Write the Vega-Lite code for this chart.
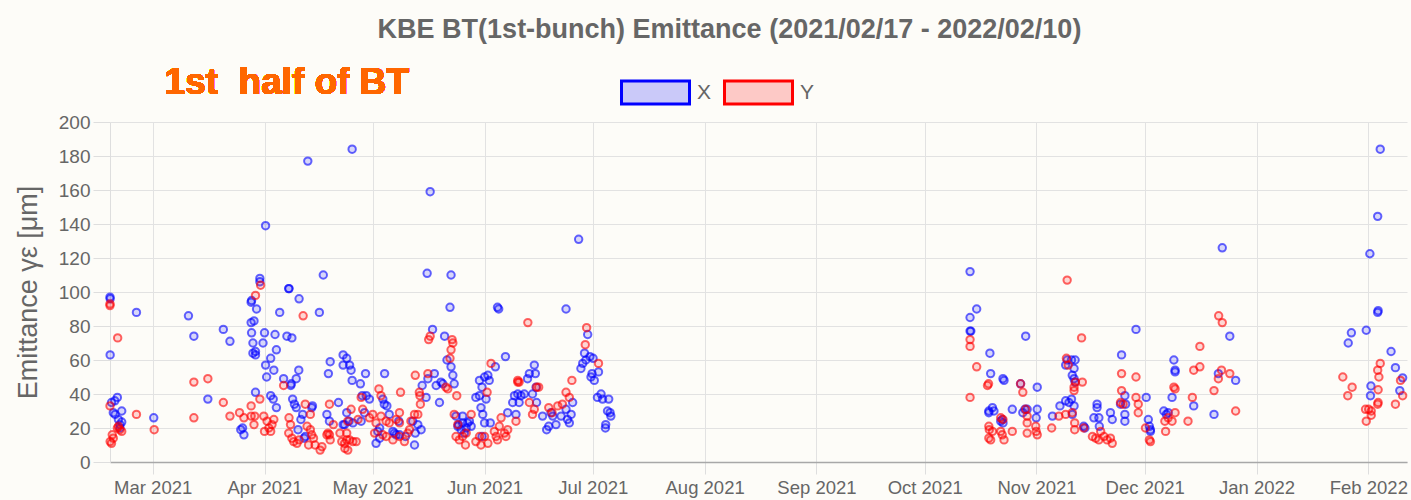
{
"$schema": "https://vega.github.io/schema/vega-lite/v6.json",
"width": 1297,
"height": 340,
"autosize": {"type": "none"},
"padding": {"left": 110, "top": 122, "right": 4, "bottom": 38},
"background": "#fdfcf8",
"config": {"font": "Liberation Sans", "view": {"stroke": null}},
"title": {"text": "KBE BT(1st-bunch) Emittance (2021/02/17 - 2022/02/10)", "fontSize": 27, "fontWeight": "bold", "color": "#666666", "anchor": "middle", "frame": "group", "dx": -29, "dy": -9},
"data": {"values": [
{"t":"2021-02-17T04:00","s":"X","v":97},{"t":"2021-02-17T05:00","s":"X","v":96},{"t":"2021-02-17T05:00","s":"X","v":63},{"t":"2021-02-17T14:00","s":"X","v":35},{"t":"2021-02-18T02:00","s":"X","v":29},{"t":"2021-02-18T12:00","s":"X","v":36},{"t":"2021-02-19T05:00","s":"X","v":38},{"t":"2021-02-18T14:00","s":"X","v":28},{"t":"2021-02-19T12:00","s":"X","v":25},{"t":"2021-02-19T22:00","s":"X","v":22},{"t":"2021-02-20T10:00","s":"X","v":30},{"t":"2021-02-20T10:00","s":"X","v":23.5},{"t":"2021-02-19T22:00","s":"X","v":20},
{"t":"2021-02-24T12:00","s":"X","v":88},{"t":"2021-03-01T07:00","s":"X","v":26},{"t":"2021-03-10T22:00","s":"X","v":86},{"t":"2021-03-12T10:00","s":"X","v":74},{"t":"2021-03-16T07:00","s":"X","v":37},{"t":"2021-03-20T14:00","s":"X","v":78},{"t":"2021-03-22T10:00","s":"X","v":71},{"t":"2021-03-25T10:00","s":"X","v":19},{"t":"2021-03-26T07:00","s":"X","v":16},{"t":"2021-03-25T22:00","s":"X","v":20},
{"t":"2021-03-28T07:00","s":"X","v":94},{"t":"2021-03-28T10:00","s":"X","v":95},{"t":"2021-03-28T07:00","s":"X","v":82},{"t":"2021-03-29T02:00","s":"X","v":83},{"t":"2021-03-29T19:00","s":"X","v":90},{"t":"2021-03-28T10:00","s":"X","v":76},{"t":"2021-03-28T19:00","s":"X","v":70},{"t":"2021-03-28T19:00","s":"X","v":64},{"t":"2021-03-29T12:00","s":"X","v":63},{"t":"2021-03-29T12:00","s":"X","v":65},{"t":"2021-03-29T12:00","s":"X","v":41},
{"t":"2021-03-30T17:00","s":"X","v":108},{"t":"2021-03-30T17:00","s":"X","v":106},{"t":"2021-04-01T07:00","s":"X","v":139},{"t":"2021-04-01T00:00","s":"X","v":76},{"t":"2021-03-31T14:00","s":"X","v":70},{"t":"2021-04-01T07:00","s":"X","v":57},{"t":"2021-04-01T14:00","s":"X","v":50},{"t":"2021-04-02T17:00","s":"X","v":39},{"t":"2021-04-02T17:00","s":"X","v":61},{"t":"2021-04-03T14:00","s":"X","v":54},{"t":"2021-04-03T10:00","s":"X","v":37},{"t":"2021-04-04T07:00","s":"X","v":32},{"t":"2021-04-04T07:00","s":"X","v":66},{"t":"2021-04-03T22:00","s":"X","v":75},{"t":"2021-04-05T05:00","s":"X","v":88},
{"t":"2021-04-06T07:00","s":"X","v":49},{"t":"2021-04-07T17:00","s":"X","v":102},{"t":"2021-04-07T19:00","s":"X","v":102},{"t":"2021-04-07T05:00","s":"X","v":74},{"t":"2021-04-08T14:00","s":"X","v":73},{"t":"2021-04-08T07:00","s":"X","v":45},{"t":"2021-04-08T10:00","s":"X","v":46},{"t":"2021-04-08T19:00","s":"X","v":37},{"t":"2021-04-09T07:00","s":"X","v":34},{"t":"2021-04-09T19:00","s":"X","v":32},{"t":"2021-04-09T19:00","s":"X","v":49},{"t":"2021-04-10T12:00","s":"X","v":54},{"t":"2021-04-10T14:00","s":"X","v":96},{"t":"2021-04-10T07:00","s":"X","v":19},{"t":"2021-04-11T02:00","s":"X","v":25},{"t":"2021-04-11T14:00","s":"X","v":28},{"t":"2021-04-12T00:00","s":"X","v":14},{"t":"2021-04-12T07:00","s":"X","v":15},
{"t":"2021-04-13T00:00","s":"X","v":177},{"t":"2021-04-14T02:00","s":"X","v":32},{"t":"2021-04-14T07:00","s":"X","v":33},{"t":"2021-04-16T05:00","s":"X","v":88},{"t":"2021-04-17T07:00","s":"X","v":110},{"t":"2021-04-18T07:00","s":"X","v":28},{"t":"2021-04-19T00:00","s":"X","v":24},{"t":"2021-04-19T05:00","s":"X","v":59},{"t":"2021-04-18T17:00","s":"X","v":52},{"t":"2021-04-21T12:00","s":"X","v":35},{"t":"2021-04-22T19:00","s":"X","v":22},{"t":"2021-04-22T19:00","s":"X","v":63},{"t":"2021-04-22T19:00","s":"X","v":57},{"t":"2021-04-23T19:00","s":"X","v":29},{"t":"2021-04-23T19:00","s":"X","v":61},
{"t":"2021-04-25T07:00","s":"X","v":184},{"t":"2021-04-24T14:00","s":"X","v":57},{"t":"2021-04-25T00:00","s":"X","v":54},{"t":"2021-04-25T07:00","s":"X","v":48},{"t":"2021-04-24T10:00","s":"X","v":24},{"t":"2021-04-25T12:00","s":"X","v":23},{"t":"2021-04-23T05:00","s":"X","v":22},{"t":"2021-04-27T14:00","s":"X","v":46},{"t":"2021-04-29T00:00","s":"X","v":52},{"t":"2021-04-28T02:00","s":"X","v":39},{"t":"2021-04-29T05:00","s":"X","v":39},{"t":"2021-04-30T02:00","s":"X","v":37},{"t":"2021-04-27T19:00","s":"X","v":24},{"t":"2021-04-28T17:00","s":"X","v":29},
{"t":"2021-05-01T22:00","s":"X","v":11},{"t":"2021-05-02T22:00","s":"X","v":20},{"t":"2021-05-02T10:00","s":"X","v":18},{"t":"2021-05-02T22:00","s":"X","v":14},{"t":"2021-05-04T07:00","s":"X","v":52},{"t":"2021-05-04T05:00","s":"X","v":34},{"t":"2021-05-04T22:00","s":"X","v":33},{"t":"2021-05-03T19:00","s":"X","v":37},{"t":"2021-05-05T14:00","s":"X","v":28},{"t":"2021-05-07T00:00","s":"X","v":17},{"t":"2021-05-07T12:00","s":"X","v":16},{"t":"2021-05-08T10:00","s":"X","v":16},{"t":"2021-05-06T14:00","s":"X","v":18},{"t":"2021-05-08T05:00","s":"X","v":24},{"t":"2021-05-10T02:00","s":"X","v":15},{"t":"2021-05-12T14:00","s":"X","v":10},{"t":"2021-05-12T19:00","s":"X","v":17},{"t":"2021-05-13T12:00","s":"X","v":22},{"t":"2021-05-14T10:00","s":"X","v":19},{"t":"2021-05-12T02:00","s":"X","v":24},
{"t":"2021-05-16T22:00","s":"X","v":159},{"t":"2021-05-16T02:00","s":"X","v":111},{"t":"2021-05-22T17:00","s":"X","v":110},{"t":"2021-05-22T10:00","s":"X","v":91},{"t":"2021-05-17T14:00","s":"X","v":78},{"t":"2021-05-20T22:00","s":"X","v":74},{"t":"2021-05-21T14:00","s":"X","v":60},{"t":"2021-05-22T17:00","s":"X","v":56},{"t":"2021-05-23T05:00","s":"X","v":51},{"t":"2021-05-23T14:00","s":"X","v":46},{"t":"2021-05-18T02:00","s":"X","v":52},{"t":"2021-05-16T07:00","s":"X","v":49},{"t":"2021-05-14T17:00","s":"X","v":45},{"t":"2021-05-15T19:00","s":"X","v":38},{"t":"2021-05-19T12:00","s":"X","v":35},{"t":"2021-05-20T10:00","s":"X","v":46},{"t":"2021-05-19T22:00","s":"X","v":47},{"t":"2021-05-18T14:00","s":"X","v":45},
{"t":"2021-05-24T14:00","s":"X","v":21},{"t":"2021-05-24T19:00","s":"X","v":22},{"t":"2021-05-25T12:00","s":"X","v":19},{"t":"2021-05-25T22:00","s":"X","v":23},{"t":"2021-05-26T22:00","s":"X","v":20},{"t":"2021-05-27T07:00","s":"X","v":23},{"t":"2021-05-27T19:00","s":"X","v":24},{"t":"2021-05-28T07:00","s":"X","v":21},{"t":"2021-05-26T10:00","s":"X","v":17},{"t":"2021-05-24T02:00","s":"X","v":27},{"t":"2021-05-25T22:00","s":"X","v":27},
{"t":"2021-05-29T14:00","s":"X","v":38},{"t":"2021-05-30T14:00","s":"X","v":39},{"t":"2021-05-31T07:00","s":"X","v":44},{"t":"2021-05-30T14:00","s":"X","v":48},{"t":"2021-06-01T00:00","s":"X","v":50},{"t":"2021-06-01T22:00","s":"X","v":51},{"t":"2021-06-02T07:00","s":"X","v":48},{"t":"2021-06-01T10:00","s":"X","v":37},{"t":"2021-05-31T00:00","s":"X","v":32},{"t":"2021-05-31T12:00","s":"X","v":28},{"t":"2021-06-01T00:00","s":"X","v":23},{"t":"2021-06-02T14:00","s":"X","v":23},{"t":"2021-05-31T07:00","s":"X","v":15},
{"t":"2021-06-04T00:00","s":"X","v":56},{"t":"2021-06-04T14:00","s":"X","v":91},{"t":"2021-06-04T22:00","s":"X","v":90},{"t":"2021-06-06T19:00","s":"X","v":62},{"t":"2021-06-07T10:00","s":"X","v":29},{"t":"2021-06-08T19:00","s":"X","v":35},{"t":"2021-06-09T07:00","s":"X","v":39},{"t":"2021-06-10T05:00","s":"X","v":40},{"t":"2021-06-10T14:00","s":"X","v":35},{"t":"2021-06-09T17:00","s":"X","v":28},{"t":"2021-06-11T02:00","s":"X","v":39},{"t":"2021-06-12T00:00","s":"X","v":40},{"t":"2021-06-12T22:00","s":"X","v":49},{"t":"2021-06-13T10:00","s":"X","v":52},{"t":"2021-06-14T07:00","s":"X","v":40},{"t":"2021-06-14T19:00","s":"X","v":57},{"t":"2021-06-15T02:00","s":"X","v":52},{"t":"2021-06-15T07:00","s":"X","v":44},{"t":"2021-06-15T10:00","s":"X","v":35},
{"t":"2021-06-17T02:00","s":"X","v":27},{"t":"2021-06-18T05:00","s":"X","v":19},{"t":"2021-06-18T19:00","s":"X","v":21},{"t":"2021-06-19T10:00","s":"X","v":29},{"t":"2021-06-19T22:00","s":"X","v":27},{"t":"2021-06-20T19:00","s":"X","v":22},{"t":"2021-06-22T05:00","s":"X","v":27},{"t":"2021-06-23T14:00","s":"X","v":31},{"t":"2021-06-24T00:00","s":"X","v":25},{"t":"2021-06-24T12:00","s":"X","v":23},{"t":"2021-06-25T00:00","s":"X","v":28},{"t":"2021-06-25T10:00","s":"X","v":35},
{"t":"2021-06-27T02:00","s":"X","v":131},{"t":"2021-06-23T14:00","s":"X","v":90},{"t":"2021-06-29T14:00","s":"X","v":75},{"t":"2021-06-28T17:00","s":"X","v":64},{"t":"2021-06-28T05:00","s":"X","v":58},{"t":"2021-06-27T17:00","s":"X","v":55},{"t":"2021-06-29T02:00","s":"X","v":60},{"t":"2021-06-30T05:00","s":"X","v":62},{"t":"2021-07-01T02:00","s":"X","v":61},{"t":"2021-06-30T19:00","s":"X","v":52},{"t":"2021-06-30T12:00","s":"X","v":50},{"t":"2021-07-01T10:00","s":"X","v":48},{"t":"2021-07-02T07:00","s":"X","v":38},{"t":"2021-07-02T14:00","s":"X","v":53},{"t":"2021-07-03T07:00","s":"X","v":40},{"t":"2021-07-03T17:00","s":"X","v":37},{"t":"2021-07-05T10:00","s":"X","v":37},{"t":"2021-07-05T02:00","s":"X","v":30},{"t":"2021-07-05T19:00","s":"X","v":29},{"t":"2021-07-06T00:00","s":"X","v":27},{"t":"2021-07-04T14:00","s":"X","v":22},{"t":"2021-07-04T12:00","s":"X","v":20},
{"t":"2021-10-13T14:00","s":"X","v":112},{"t":"2021-10-15T10:00","s":"X","v":90},{"t":"2021-10-13T14:00","s":"X","v":85},{"t":"2021-10-13T14:00","s":"X","v":77},{"t":"2021-10-13T19:00","s":"X","v":77},{"t":"2021-10-19T02:00","s":"X","v":64},{"t":"2021-10-19T07:00","s":"X","v":52},{"t":"2021-10-18T19:00","s":"X","v":30},{"t":"2021-10-19T19:00","s":"X","v":32},{"t":"2021-10-18T19:00","s":"X","v":29},{"t":"2021-10-20T05:00","s":"X","v":30},
{"t":"2021-10-22T17:00","s":"X","v":49},{"t":"2021-10-23T00:00","s":"X","v":48},{"t":"2021-10-22T12:00","s":"X","v":25},{"t":"2021-10-22T02:00","s":"X","v":24},{"t":"2021-10-22T17:00","s":"X","v":23},{"t":"2021-10-25T07:00","s":"X","v":31},{"t":"2021-10-27T14:00","s":"X","v":46},{"t":"2021-10-29T00:00","s":"X","v":74},{"t":"2021-10-28T19:00","s":"X","v":31},{"t":"2021-10-28T05:00","s":"X","v":29},{"t":"2021-10-29T10:00","s":"X","v":31},{"t":"2021-11-01T05:00","s":"X","v":44},{"t":"2021-11-01T05:00","s":"X","v":31},{"t":"2021-10-31T22:00","s":"X","v":26},
{"t":"2021-11-05T10:00","s":"X","v":27},{"t":"2021-11-07T12:00","s":"X","v":33},{"t":"2021-11-09T02:00","s":"X","v":57},{"t":"2021-11-09T12:00","s":"X","v":60},{"t":"2021-11-10T17:00","s":"X","v":60},{"t":"2021-11-11T17:00","s":"X","v":60},{"t":"2021-11-11T10:00","s":"X","v":55},{"t":"2021-11-10T22:00","s":"X","v":51},{"t":"2021-11-11T10:00","s":"X","v":49},{"t":"2021-11-11T17:00","s":"X","v":47},{"t":"2021-11-09T02:00","s":"X","v":36},{"t":"2021-11-10T00:00","s":"X","v":35},{"t":"2021-11-10T17:00","s":"X","v":37},{"t":"2021-11-11T10:00","s":"X","v":33},{"t":"2021-11-10T22:00","s":"X","v":28},
{"t":"2021-11-14T02:00","s":"X","v":21},{"t":"2021-11-14T10:00","s":"X","v":20},{"t":"2021-11-16T22:00","s":"X","v":26},{"t":"2021-11-17T19:00","s":"X","v":34},{"t":"2021-11-17T19:00","s":"X","v":32},{"t":"2021-11-18T07:00","s":"X","v":26},{"t":"2021-11-18T10:00","s":"X","v":21},{"t":"2021-11-21T12:00","s":"X","v":29},{"t":"2021-11-22T00:00","s":"X","v":25},{"t":"2021-11-24T14:00","s":"X","v":63},{"t":"2021-11-25T12:00","s":"X","v":39},{"t":"2021-11-24T07:00","s":"X","v":34},{"t":"2021-11-25T17:00","s":"X","v":34},{"t":"2021-11-25T12:00","s":"X","v":28},{"t":"2021-11-25T12:00","s":"X","v":24},
{"t":"2021-11-28T14:00","s":"X","v":78},{"t":"2021-12-01T10:00","s":"X","v":38},{"t":"2021-12-02T00:00","s":"X","v":25},{"t":"2021-12-02T07:00","s":"X","v":21},{"t":"2021-12-02T14:00","s":"X","v":19},{"t":"2021-12-02T14:00","s":"X","v":18},{"t":"2021-12-06T07:00","s":"X","v":30},{"t":"2021-12-07T12:00","s":"X","v":29},{"t":"2021-12-07T00:00","s":"X","v":28},{"t":"2021-12-08T14:00","s":"X","v":38},{"t":"2021-12-09T02:00","s":"X","v":60},{"t":"2021-12-09T10:00","s":"X","v":54},{"t":"2021-12-09T10:00","s":"X","v":53},
{"t":"2021-12-14T14:00","s":"X","v":33},{"t":"2021-12-20T05:00","s":"X","v":28},{"t":"2021-12-21T10:00","s":"X","v":52},{"t":"2021-12-26T05:00","s":"X","v":48},{"t":"2021-12-24T14:00","s":"X","v":74},{"t":"2021-12-22T12:00","s":"X","v":126},
{"t":"2022-01-26T10:00","s":"X","v":70},{"t":"2022-01-27T07:00","s":"X","v":76},{"t":"2022-01-31T10:00","s":"X","v":77.5},{"t":"2022-02-01T10:00","s":"X","v":122.5},{"t":"2022-02-03T14:00","s":"X","v":144.5},{"t":"2022-02-04T07:00","s":"X","v":184},{"t":"2022-02-03T14:00","s":"X","v":88},{"t":"2022-02-03T17:00","s":"X","v":89},{"t":"2022-02-07T07:00","s":"X","v":65},{"t":"2022-02-08T12:00","s":"X","v":55.5},{"t":"2022-02-10T12:00","s":"X","v":49.5},{"t":"2022-02-01T17:00","s":"X","v":44.7},{"t":"2022-02-01T14:00","s":"X","v":39},{"t":"2022-02-09T17:00","s":"X","v":42},
{"t":"2021-02-17T04:00","s":"Y","v":93},{"t":"2021-02-17T04:00","s":"Y","v":92},{"t":"2021-02-17T04:00","s":"Y","v":33},{"t":"2021-02-17T05:00","s":"Y","v":12},{"t":"2021-02-17T14:00","s":"Y","v":11},{"t":"2021-02-18T02:00","s":"Y","v":14},{"t":"2021-02-17T19:00","s":"Y","v":16},{"t":"2021-02-19T05:00","s":"Y","v":20},{"t":"2021-02-19T12:00","s":"Y","v":21},{"t":"2021-02-19T22:00","s":"Y","v":19},{"t":"2021-02-20T10:00","s":"Y","v":18},{"t":"2021-02-19T07:00","s":"Y","v":73},
{"t":"2021-02-24T12:00","s":"Y","v":28},{"t":"2021-03-01T10:00","s":"Y","v":19},{"t":"2021-03-12T10:00","s":"Y","v":47},{"t":"2021-03-12T10:00","s":"Y","v":26},{"t":"2021-03-16T07:00","s":"Y","v":49},{"t":"2021-03-20T14:00","s":"Y","v":35},{"t":"2021-03-22T10:00","s":"Y","v":27},{"t":"2021-03-25T02:00","s":"Y","v":29},{"t":"2021-03-26T07:00","s":"Y","v":26},{"t":"2021-03-28T07:00","s":"Y","v":33},{"t":"2021-03-28T07:00","s":"Y","v":27},{"t":"2021-03-29T07:00","s":"Y","v":27},{"t":"2021-03-29T02:00","s":"Y","v":22},{"t":"2021-03-29T12:00","s":"Y","v":98},{"t":"2021-03-30T22:00","s":"Y","v":104},{"t":"2021-03-30T17:00","s":"Y","v":37},
{"t":"2021-03-31T19:00","s":"Y","v":27},{"t":"2021-04-01T00:00","s":"Y","v":18},{"t":"2021-04-01T17:00","s":"Y","v":24},{"t":"2021-04-02T05:00","s":"Y","v":20},{"t":"2021-04-02T17:00","s":"Y","v":18},{"t":"2021-04-03T14:00","s":"Y","v":25},{"t":"2021-04-03T02:00","s":"Y","v":22},{"t":"2021-04-06T07:00","s":"Y","v":45},{"t":"2021-04-07T17:00","s":"Y","v":17},{"t":"2021-04-07T19:00","s":"Y","v":26},{"t":"2021-04-08T05:00","s":"Y","v":22},{"t":"2021-04-08T14:00","s":"Y","v":14},{"t":"2021-04-09T02:00","s":"Y","v":12},{"t":"2021-04-10T00:00","s":"Y","v":11},{"t":"2021-04-10T14:00","s":"Y","v":13},
{"t":"2021-04-11T17:00","s":"Y","v":86},{"t":"2021-04-12T07:00","s":"Y","v":34},{"t":"2021-04-12T19:00","s":"Y","v":21},{"t":"2021-04-13T17:00","s":"Y","v":28},{"t":"2021-04-13T17:00","s":"Y","v":19},{"t":"2021-04-14T02:00","s":"Y","v":16},{"t":"2021-04-13T05:00","s":"Y","v":10},{"t":"2021-04-14T14:00","s":"Y","v":14},{"t":"2021-04-15T00:00","s":"Y","v":10},{"t":"2021-04-16T10:00","s":"Y","v":7},{"t":"2021-04-16T22:00","s":"Y","v":9},{"t":"2021-04-18T07:00","s":"Y","v":16},{"t":"2021-04-18T14:00","s":"Y","v":17},{"t":"2021-04-19T05:00","s":"Y","v":13},{"t":"2021-04-19T00:00","s":"Y","v":34},{"t":"2021-04-20T02:00","s":"Y","v":22},{"t":"2021-04-21T22:00","s":"Y","v":17},{"t":"2021-04-22T10:00","s":"Y","v":12},{"t":"2021-04-23T07:00","s":"Y","v":8},{"t":"2021-04-23T19:00","s":"Y","v":13},{"t":"2021-04-23T19:00","s":"Y","v":17},
{"t":"2021-04-19T00:00","s":"Y","v":16},{"t":"2021-04-23T05:00","s":"Y","v":11},{"t":"2021-04-24T02:00","s":"Y","v":7},{"t":"2021-04-24T14:00","s":"Y","v":13},{"t":"2021-04-25T12:00","s":"Y","v":12},{"t":"2021-04-26T10:00","s":"Y","v":12},{"t":"2021-04-25T00:00","s":"Y","v":31},{"t":"2021-04-24T02:00","s":"Y","v":24},{"t":"2021-04-27T19:00","s":"Y","v":38},{"t":"2021-04-28T05:00","s":"Y","v":31},{"t":"2021-04-26T22:00","s":"Y","v":25},{"t":"2021-04-30T02:00","s":"Y","v":26},{"t":"2021-05-01T00:00","s":"Y","v":28},{"t":"2021-05-01T12:00","s":"Y","v":17},{"t":"2021-05-01T22:00","s":"Y","v":23},{"t":"2021-05-02T17:00","s":"Y","v":43},{"t":"2021-05-03T07:00","s":"Y","v":39},{"t":"2021-05-03T07:00","s":"Y","v":27},
{"t":"2021-05-04T17:00","s":"Y","v":24},{"t":"2021-05-05T14:00","s":"Y","v":23},{"t":"2021-05-07T12:00","s":"Y","v":25},{"t":"2021-05-08T10:00","s":"Y","v":29},{"t":"2021-05-08T10:00","s":"Y","v":23},{"t":"2021-05-08T17:00","s":"Y","v":41},{"t":"2021-05-09T19:00","s":"Y","v":12},{"t":"2021-05-10T17:00","s":"Y","v":17},{"t":"2021-05-11T05:00","s":"Y","v":19},{"t":"2021-05-11T14:00","s":"Y","v":24},{"t":"2021-05-12T14:00","s":"Y","v":28},{"t":"2021-05-04T17:00","s":"Y","v":15},{"t":"2021-05-03T19:00","s":"Y","v":16},{"t":"2021-05-06T14:00","s":"Y","v":13},{"t":"2021-05-08T10:00","s":"Y","v":15},
{"t":"2021-05-16T12:00","s":"Y","v":72},{"t":"2021-05-16T22:00","s":"Y","v":74},{"t":"2021-05-23T00:00","s":"Y","v":72},{"t":"2021-05-22T17:00","s":"Y","v":66},{"t":"2021-05-22T10:00","s":"Y","v":61},{"t":"2021-05-23T05:00","s":"Y","v":70},{"t":"2021-05-16T07:00","s":"Y","v":52},{"t":"2021-05-12T19:00","s":"Y","v":51},{"t":"2021-05-13T22:00","s":"Y","v":41},{"t":"2021-05-14T02:00","s":"Y","v":39},{"t":"2021-05-14T05:00","s":"Y","v":34},{"t":"2021-05-13T12:00","s":"Y","v":28},{"t":"2021-05-21T07:00","s":"Y","v":44},{"t":"2021-05-21T19:00","s":"Y","v":43},{"t":"2021-05-24T07:00","s":"Y","v":39},{"t":"2021-05-23T14:00","s":"Y","v":28},
{"t":"2021-05-24T14:00","s":"Y","v":22},{"t":"2021-05-25T22:00","s":"Y","v":15},{"t":"2021-05-26T22:00","s":"Y","v":17},{"t":"2021-05-26T17:00","s":"Y","v":10},{"t":"2021-05-24T02:00","s":"Y","v":15},{"t":"2021-05-25T00:00","s":"Y","v":13},{"t":"2021-05-28T07:00","s":"Y","v":28},{"t":"2021-05-30T14:00","s":"Y","v":15},{"t":"2021-05-29T14:00","s":"Y","v":12},{"t":"2021-05-31T00:00","s":"Y","v":10},{"t":"2021-06-01T00:00","s":"Y","v":15},{"t":"2021-06-01T22:00","s":"Y","v":11},{"t":"2021-06-02T19:00","s":"Y","v":58},{"t":"2021-06-01T17:00","s":"Y","v":41},
{"t":"2021-06-03T17:00","s":"Y","v":18},{"t":"2021-06-04T05:00","s":"Y","v":15},{"t":"2021-06-04T14:00","s":"Y","v":13},{"t":"2021-06-05T02:00","s":"Y","v":21},{"t":"2021-06-05T14:00","s":"Y","v":26},{"t":"2021-06-06T12:00","s":"Y","v":17},{"t":"2021-06-07T10:00","s":"Y","v":19},{"t":"2021-06-06T22:00","s":"Y","v":15},{"t":"2021-06-09T17:00","s":"Y","v":24},{"t":"2021-06-10T05:00","s":"Y","v":48},{"t":"2021-06-10T05:00","s":"Y","v":47},{"t":"2021-06-10T14:00","s":"Y","v":47},{"t":"2021-06-13T00:00","s":"Y","v":82},{"t":"2021-06-13T10:00","s":"Y","v":35},{"t":"2021-06-14T07:00","s":"Y","v":28},{"t":"2021-06-14T19:00","s":"Y","v":31},{"t":"2021-06-15T10:00","s":"Y","v":44},{"t":"2021-06-16T00:00","s":"Y","v":44},
{"t":"2021-06-18T19:00","s":"Y","v":32},{"t":"2021-06-19T17:00","s":"Y","v":29},{"t":"2021-06-21T07:00","s":"Y","v":33},{"t":"2021-06-22T14:00","s":"Y","v":34},{"t":"2021-06-23T14:00","s":"Y","v":41},{"t":"2021-06-24T12:00","s":"Y","v":38},{"t":"2021-06-25T05:00","s":"Y","v":48},{"t":"2021-06-29T07:00","s":"Y","v":79},{"t":"2021-06-28T22:00","s":"Y","v":69},{"t":"2021-07-02T14:00","s":"Y","v":58},
{"t":"2021-10-13T14:00","s":"Y","v":38},{"t":"2021-10-13T14:00","s":"Y","v":72},{"t":"2021-10-13T14:00","s":"Y","v":68},{"t":"2021-10-15T10:00","s":"Y","v":56},{"t":"2021-10-18T10:00","s":"Y","v":45},{"t":"2021-10-18T17:00","s":"Y","v":46},{"t":"2021-10-18T19:00","s":"Y","v":21},{"t":"2021-10-18T22:00","s":"Y","v":19},{"t":"2021-10-18T19:00","s":"Y","v":14},{"t":"2021-10-19T07:00","s":"Y","v":13},{"t":"2021-10-19T19:00","s":"Y","v":18},{"t":"2021-10-22T02:00","s":"Y","v":26},{"t":"2021-10-22T17:00","s":"Y","v":25},{"t":"2021-10-22T02:00","s":"Y","v":18},{"t":"2021-10-22T12:00","s":"Y","v":16},{"t":"2021-10-23T00:00","s":"Y","v":13},
{"t":"2021-10-25T07:00","s":"Y","v":18},{"t":"2021-10-27T14:00","s":"Y","v":46},{"t":"2021-10-28T05:00","s":"Y","v":41},{"t":"2021-10-29T00:00","s":"Y","v":31},{"t":"2021-10-29T10:00","s":"Y","v":27},{"t":"2021-10-29T10:00","s":"Y","v":23},{"t":"2021-10-29T10:00","s":"Y","v":17},{"t":"2021-10-31T19:00","s":"Y","v":21},{"t":"2021-10-31T22:00","s":"Y","v":18},{"t":"2021-11-01T05:00","s":"Y","v":16},{"t":"2021-11-05T05:00","s":"Y","v":20},{"t":"2021-11-07T05:00","s":"Y","v":27},{"t":"2021-11-09T02:00","s":"Y","v":28},
{"t":"2021-11-09T12:00","s":"Y","v":107},{"t":"2021-11-09T07:00","s":"Y","v":61},{"t":"2021-11-09T19:00","s":"Y","v":57},{"t":"2021-11-11T10:00","s":"Y","v":44},{"t":"2021-11-11T10:00","s":"Y","v":42},{"t":"2021-11-11T19:00","s":"Y","v":47},{"t":"2021-11-13T17:00","s":"Y","v":47},{"t":"2021-11-13T12:00","s":"Y","v":73},{"t":"2021-11-10T22:00","s":"Y","v":29},{"t":"2021-11-11T14:00","s":"Y","v":23},{"t":"2021-11-11T14:00","s":"Y","v":19},{"t":"2021-11-14T02:00","s":"Y","v":20},
{"t":"2021-11-16T12:00","s":"Y","v":15},{"t":"2021-11-17T10:00","s":"Y","v":14},{"t":"2021-11-18T07:00","s":"Y","v":13},{"t":"2021-11-18T19:00","s":"Y","v":18},{"t":"2021-11-19T17:00","s":"Y","v":15},{"t":"2021-11-20T14:00","s":"Y","v":13},{"t":"2021-11-21T12:00","s":"Y","v":14},{"t":"2021-11-22T00:00","s":"Y","v":11},{"t":"2021-11-24T14:00","s":"Y","v":52},{"t":"2021-11-24T14:00","s":"Y","v":42},{"t":"2021-11-24T07:00","s":"Y","v":35},{"t":"2021-11-25T00:00","s":"Y","v":34},
{"t":"2021-11-28T14:00","s":"Y","v":50},{"t":"2021-11-28T14:00","s":"Y","v":38},{"t":"2021-11-29T05:00","s":"Y","v":34},{"t":"2021-11-29T05:00","s":"Y","v":29},{"t":"2021-12-01T05:00","s":"Y","v":20},{"t":"2021-12-02T07:00","s":"Y","v":13},{"t":"2021-12-02T14:00","s":"Y","v":12},{"t":"2021-12-06T14:00","s":"Y","v":24},{"t":"2021-12-06T19:00","s":"Y","v":18},{"t":"2021-12-07T12:00","s":"Y","v":26},{"t":"2021-12-08T14:00","s":"Y","v":24},{"t":"2021-12-09T10:00","s":"Y","v":29},{"t":"2021-12-09T10:00","s":"Y","v":43},{"t":"2021-12-09T02:00","s":"Y","v":44},
{"t":"2021-12-13T00:00","s":"Y","v":24},{"t":"2021-12-14T05:00","s":"Y","v":38},{"t":"2021-12-14T14:00","s":"Y","v":54},{"t":"2021-12-16T07:00","s":"Y","v":56},{"t":"2021-12-16T07:00","s":"Y","v":68},{"t":"2021-12-20T05:00","s":"Y","v":42},{"t":"2021-12-21T10:00","s":"Y","v":49},{"t":"2021-12-21T12:00","s":"Y","v":86},{"t":"2021-12-22T12:00","s":"Y","v":82},{"t":"2021-12-22T07:00","s":"Y","v":54},{"t":"2021-12-24T14:00","s":"Y","v":52},{"t":"2021-12-26T05:00","s":"Y","v":30},
{"t":"2022-01-24T22:00","s":"Y","v":50},{"t":"2022-01-27T12:00","s":"Y","v":44},{"t":"2022-01-26T07:00","s":"Y","v":39},{"t":"2022-02-04T07:00","s":"Y","v":58},{"t":"2022-02-03T14:00","s":"Y","v":54},{"t":"2022-02-03T22:00","s":"Y","v":50},{"t":"2022-02-03T17:00","s":"Y","v":42.5},{"t":"2022-02-03T14:00","s":"Y","v":34},{"t":"2022-02-03T17:00","s":"Y","v":35},{"t":"2022-01-31T05:00","s":"Y","v":31},{"t":"2022-02-01T02:00","s":"Y","v":31},{"t":"2022-02-01T19:00","s":"Y","v":30},{"t":"2022-01-31T10:00","s":"Y","v":24},{"t":"2022-02-01T19:00","s":"Y","v":27.5},{"t":"2022-02-08T12:00","s":"Y","v":34},{"t":"2022-02-09T22:00","s":"Y","v":48},{"t":"2022-02-10T12:00","s":"Y","v":39}
]},
"layer": [
{
"mark": {"type": "point", "shape": "circle", "size": 55, "strokeWidth": 2, "fillOpacity": 0.15, "strokeOpacity": 0.6},
"encoding": {
"x": {"field": "t", "type": "temporal",
 "scale": {"domain": [{"year": 2021, "month": 2, "date": 17, "hours": 4}, {"year": 2022, "month": 2, "date": 11, "hours": 17}], "nice": false},
 "axis": {"title": null, "format": "%b %Y", "tickCount": {"interval": "month", "step": 1}, "labelFontSize": 18.5, "labelColor": "#666666", "labelPadding": 4, "labelFlush": false, "labelOverlap": false, "tickSize": 12, "tickColor": "#dedede", "gridColor": "#e2e2e2", "domainColor": "#a8a8a8", "domainWidth": 1.5}},
"y": {"field": "v", "type": "quantitative",
 "scale": {"domain": [0, 200], "nice": false},
 "axis": {"title": "Emittance γε [μm]", "tickCount": 10, "labelOverlap": false, "labelFontSize": 19, "labelColor": "#666666", "labelPadding": 3, "tickSize": 17, "tickColor": "#dedede", "gridColor": "#e2e2e2", "domainColor": "#dedede",
  "titleFontSize": 27, "titleFontWeight": "normal", "titleColor": "#666666", "titleAngle": 270, "titleAlign": "center", "titleBaseline": "middle", "titleX": -82, "titleY": 170}},
"stroke": {"field": "s", "type": "nominal", "scale": {"domain": ["X", "Y"], "range": ["#0000ff", "#ff0000"]},
 "legend": {"orient": "none", "legendX": 510, "legendY": -65, "direction": "horizontal", "title": null, "padding": 0,
  "symbolType": "M-1,-0.338H1V0.338H-1Z", "symbolSize": 4624, "symbolStrokeWidth": 3, "labelFontSize": 21, "labelColor": "#666666", "labelOffset": 6, "columnPadding": 6,
  "encode": {"symbols": {"update": {"fill": {"scale": "stroke", "field": "value"}, "fillOpacity": {"value": 0.2}, "strokeOpacity": {"value": 1}, "opacity": {"value": 1}, "strokeWidth": {"value": 3}}}}}},
"fill": {"field": "s", "type": "nominal", "scale": {"domain": ["X", "Y"], "range": ["#0000ff", "#ff0000"]},
 "legend": {"orient": "none", "legendX": 510, "legendY": -65, "direction": "horizontal", "title": null, "padding": 0,
  "symbolType": "M-1,-0.338H1V0.338H-1Z", "symbolSize": 4624, "symbolStrokeWidth": 3, "labelFontSize": 21, "labelColor": "#666666", "labelOffset": 6, "columnPadding": 6,
  "encode": {"symbols": {"update": {"fill": {"scale": "fill", "field": "value"}, "stroke": {"scale": "fill", "field": "value"}, "fillOpacity": {"value": 0.2}, "strokeOpacity": {"value": 1}, "opacity": {"value": 1}, "strokeWidth": {"value": 3}}}}}}
}
},
{
"mark": {"type": "text", "text": "1st\u00a0 half of BT", "align": "left", "baseline": "middle", "fontSize": 37, "fontWeight": "bold", "color": "#ff6600"},
"encoding": {"x": {"datum": {"year": 2021, "month": 3, "date": 4, "hours": 7}, "type": "temporal"}, "y": {"datum": 223, "type": "quantitative"}}
}
]
}
